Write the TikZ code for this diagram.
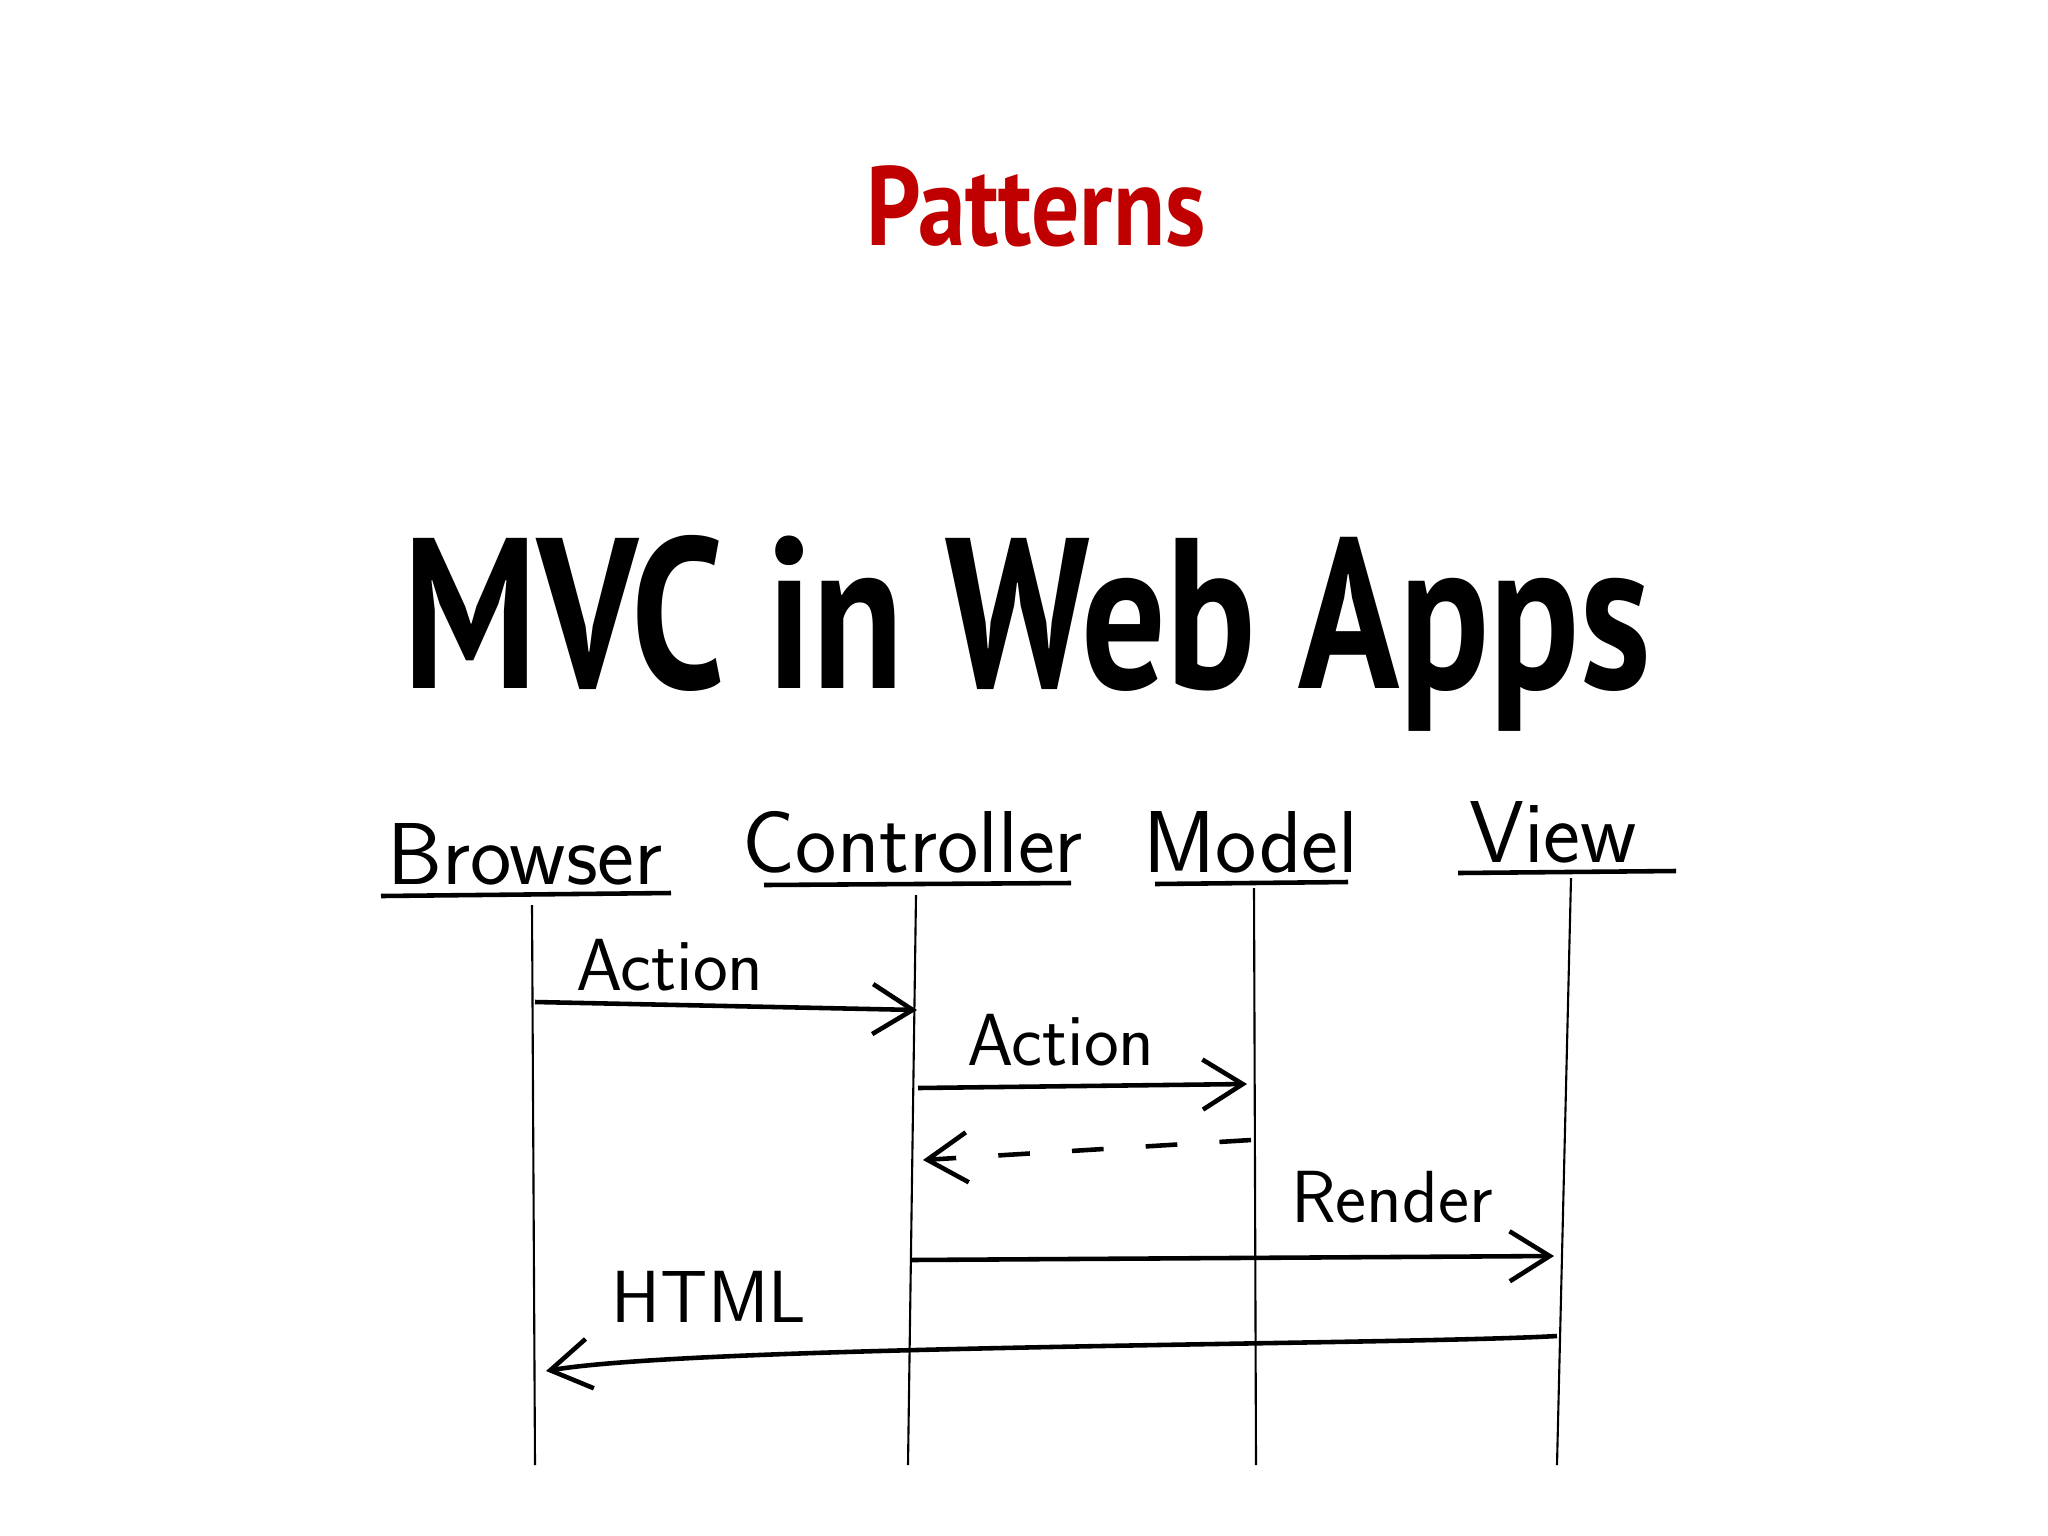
\documentclass[tikz,border=0pt]{standalone}
\usepackage{fontspec}
\setmainfont{PT Sans}
\newfontfamily\headfont[FakeStretch=0.78]{PT Sans}
\newfontfamily\kickfont[FakeStretch=0.85]{PT Sans}
\usetikzlibrary{arrows.meta}
\definecolor{patred}{RGB}{192,0,0}

\begin{document}
\begin{tikzpicture}[x=0.01cm,y=-0.01cm,
  head/.style={font=\sffamily\fontsize{25}{28}\selectfont,anchor=base},
  lbl/.style={font=\sffamily\fontsize{21}{24}\selectfont,anchor=base},
  life/.style={black,line width=0.6pt},
  uline/.style={black,line width=1.3pt},
  msg/.style={black,line width=1.3pt,-{Straight Barb[length=4mm,width=5mm,line width=1.3pt]}},
  reply/.style={msg,dashed,dash pattern=on 9pt off 12pt}]
\useasboundingbox[fill=white] (0,0) rectangle (2048,1536);

\node[font=\kickfont\bfseries\fontsize{32}{36}\selectfont,text=patred,anchor=base] (T) at (1036,245) {Patterns};
\node[font=\headfont\bfseries\fontsize{61}{70}\selectfont,anchor=base] (H) at (1027,688) {MVC in Web Apps};

% objects
\node[head] (B) at (525,884) {Browser};
\node[head] (C) at (913,872) {Controller};
\node[head] (M) at (1251,872) {Model};
\node[head] (V) at (1553,862) {View};
\draw[uline] (381,896) -- (671,893);
\draw[uline] (764,885) -- (1071,883);
\draw[uline] (1155,884) -- (1348,882);
\draw[uline] (1458,873) -- (1676,871);

% lifelines
\coordinate (b0) at (532,905); \coordinate (b1) at (535,1465);
\coordinate (c0) at (916,895); \coordinate (c1) at (908,1465);
\coordinate (m0) at (1254,888); \coordinate (m1) at (1256,1465);
\coordinate (v0) at (1571,878); \coordinate (v1) at (1557,1465);
\draw[life] (b0) -- (b1);
\draw[life] (c0) -- (c1);
\draw[life] (m0) -- (m1);
\draw[life] (v0) -- (v1);

% messages
\coordinate (a1) at (535,1002); \coordinate (a2) at (917,1010);
\coordinate (a3) at (918,1088); \coordinate (a4) at (1247,1084);
\coordinate (a5) at (1251,1140); \coordinate (a6) at (923,1160);
\coordinate (a7) at (910,1260); \coordinate (a8) at (1554,1256);
\coordinate (a9) at (1557,1336); \coordinate (a10) at (546,1371);
\draw[msg] (a1) -- (a2);
\draw[msg] (a3) -- (a4);
\draw[reply] (a5) -- (a6);
\draw[msg] (a7) -- (a8);
\draw[msg] (a9) .. controls (1400,1345) and (700,1345) .. (a10);

\node[lbl] (L1) at (670,990) {Action};
\node[lbl] (L2) at (1061,1065) {Action};
\node[lbl] (L3) at (1392,1222) {Render};
\node[lbl] (L4) at (709,1322) {HTML};
\end{tikzpicture}
\end{document}
